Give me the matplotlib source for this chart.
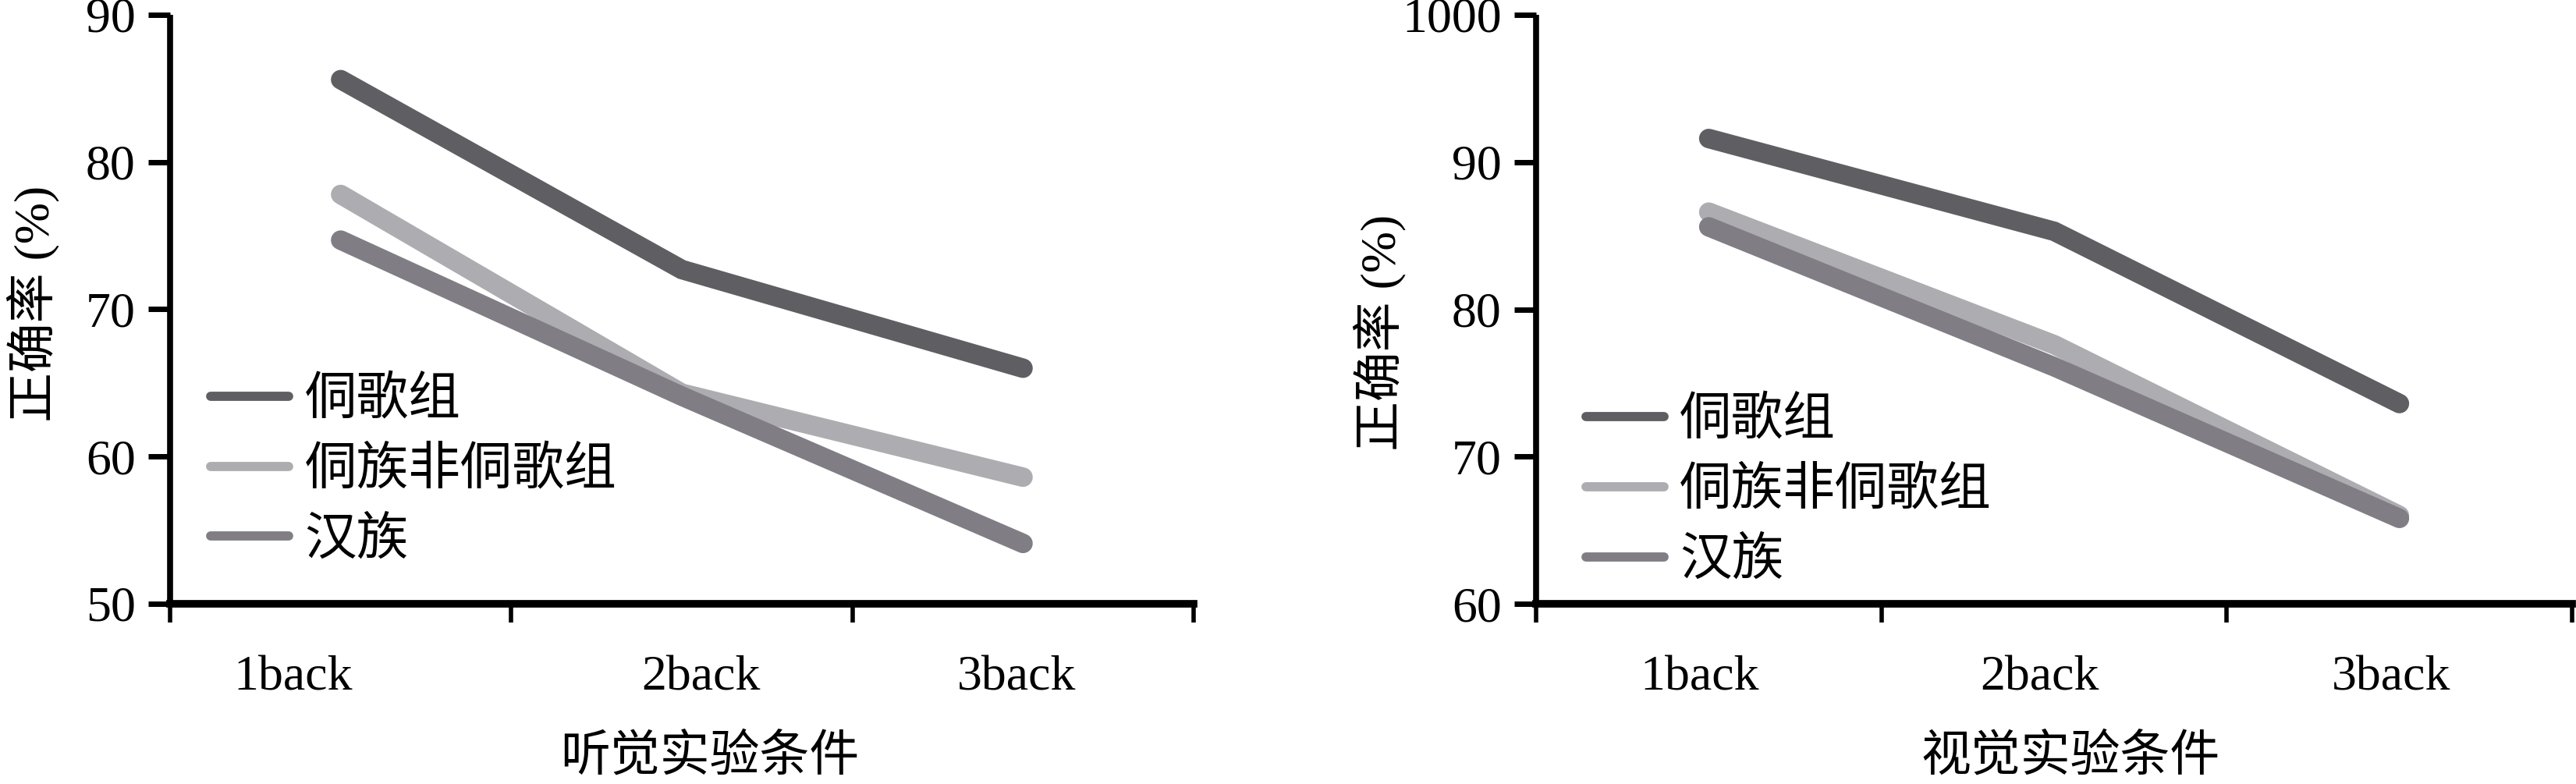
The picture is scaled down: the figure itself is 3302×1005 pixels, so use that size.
import matplotlib
matplotlib.use("Agg")
import matplotlib.pyplot as plt
from matplotlib.ticker import FixedLocator

plt.rcParams['font.family'] = ['Liberation Serif', 'Noto Sans CJK SC']

# ---- data ----
conditions = ["1back", "2back", "3back"]
groups = ["侗歌组", "侗族非侗歌组", "汉族"]
audio_dongge = [85.6, 72.7, 66.0]
audio_dongzu = [77.8, 64.3, 58.6]
audio_han = [74.7, 64.1, 54.1]
visual_dongge = [91.6, 85.3, 73.6]
visual_dongzu = [86.6, 77.6, 66.0]
visual_han = [85.6, 76.1, 65.8]
audio_yticks = [50, 60, 70, 80, 90]
audio_yticklabels = ["50", "60", "70", "80", "90"]
visual_yticks = [60, 70, 80, 90, 100]
visual_yticklabels = ["60", "70", "80", "90", "1000"]
audio_xlabel = "听觉实验条件"
visual_xlabel = "视觉实验条件"
ylabel = "正确率 (%)"

colors = ["#5f5e62", "#adacb0", "#807e84"]

W, H = 3302, 1005
fig = plt.figure(figsize=(W / 100, H / 100), dpi=100)

def px_axes(x0, x1, ytop, ybot):
    return fig.add_axes([x0 / W, (H - ybot) / H, (x1 - x0) / W, (ybot - ytop) / H])

ax1 = px_axes(218, 1530, 19, 774)
ax2 = px_axes(1969, 3297, 19, 774)

panels = [
    (ax1, [audio_dongge, audio_dongzu, audio_han], audio_yticks, audio_yticklabels,
     audio_xlabel, [0.36, 1.557, 2.48], (0.527, -0.262), (-0.134, 0.509), (0.040, 0.385)),
    (ax2, [visual_dongge, visual_dongzu, visual_han], visual_yticks, visual_yticklabels,
     visual_xlabel, [0.473, 1.457, 2.475], (0.516, -0.262), (-0.1506, 0.461), (0.048, 0.350)),
]

for ax, series, yt, ytl, xl, labpos, xlpos, ylpos, legpos in panels:
    xs = [i + 0.5 for i in range(len(conditions))]
    lines = []
    for vals, c, g in zip(series, colors, groups):
        ln, = ax.plot(xs, vals, color=c, lw=18, solid_capstyle='round',
                      solid_joinstyle='miter', label=g, clip_on=False)
        lines.append(ln)
    ax.set_xlim(0, 3)
    ax.set_ylim(yt[0], yt[-1])
    ax.set_yticks(yt)
    ax.set_yticklabels(ytl, fontsize=46)
    ax.xaxis.set_major_locator(FixedLocator([0, 1, 2, 3]))
    ax.xaxis.set_minor_locator(FixedLocator(labpos))
    ax.set_xticklabels([], minor=False)
    ax.set_xticklabels(conditions, minor=True, fontsize=46)
    ax.tick_params(axis='x', which='major', direction='out', length=17, width=4, color='black')
    ax.tick_params(axis='x', which='minor', length=0, pad=48)
    ax.tick_params(axis='y', direction='out', length=20, width=5, pad=12, color='black')
    for s in ['top', 'right']:
        ax.spines[s].set_visible(False)
    ax.spines['left'].set_linewidth(5.5)
    ax.spines['bottom'].set_linewidth(7)
    ax.spines['left'].set_capstyle('butt')
    ax.text(xlpos[0], xlpos[1], xl, transform=ax.transAxes, ha='center', va='center',
            fontsize=46)
    ax.text(ylpos[0], ylpos[1], ylabel, transform=ax.transAxes, ha='center', va='center',
            rotation=90, fontsize=46)
    leg = ax.legend(handles=lines, loc='upper left', bbox_to_anchor=legpos,
                    frameon=False, fontsize=48, handlelength=1.5, handletextpad=0.3,
                    labelspacing=0.42, borderpad=0, borderaxespad=0)
    for h in leg.get_lines():
        h.set_linewidth(8.5)
        h.set_solid_capstyle('round')

fig.savefig("out.png", dpi=100, facecolor='white')
